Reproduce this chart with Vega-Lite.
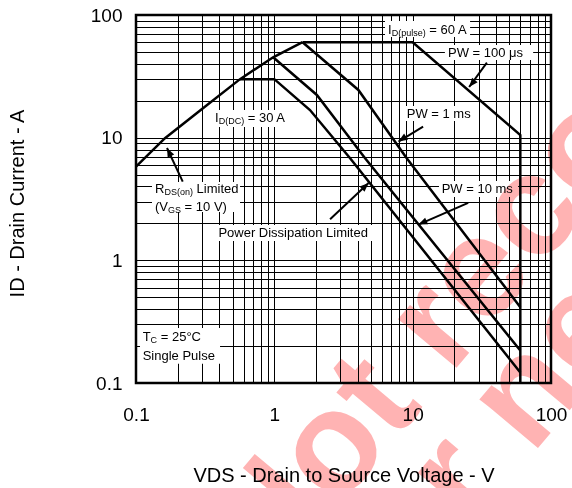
{
  "$schema": "https://vega.github.io/schema/vega-lite/v6.json",
  "width": 415,
  "height": 368,
  "autosize": {"type": "none"},
  "padding": {"left": 136, "top": 15, "right": 21, "bottom": 105},
  "background": "white",
  "config": {
    "font": "Liberation Sans",
    "view": {"stroke": "black", "strokeWidth": 2.5},
    "axis": {
      "domain": false,
      "tickSize": 0,
      "grid": true,
      "gridColor": "black",
      "gridWidth": 1,
      "gridOpacity": 1,
      "labelColor": "black",
      "labelFontSize": 19,
      "labelFlush": false,
      "labelOverlap": false,
      "titleColor": "black",
      "titleFontSize": 20,
      "titleFontWeight": "normal",
      "titleBaseline": "alphabetic",
      "titleAlign": "center"
    }
  },
  "datasets": {
    "curves": [
      {"s": "rds", "i": 1, "V": 0.1, "I": 5.8},
      {"s": "rds", "i": 2, "V": 0.162, "I": 9.9},
      {"s": "rds", "i": 3, "V": 0.3, "I": 17.1},
      {"s": "rds", "i": 4, "V": 0.565, "I": 30},
      {"s": "rds", "i": 5, "V": 0.98, "I": 45.2},
      {"s": "rds", "i": 6, "V": 1.6, "I": 60},
      {"s": "us100", "i": 1, "V": 1.6, "I": 60},
      {"s": "us100", "i": 2, "V": 10, "I": 60},
      {"s": "us100", "i": 3, "V": 60, "I": 10.5},
      {"s": "us100", "i": 4, "V": 60, "I": 0.1},
      {"s": "ms1", "i": 1, "V": 1.6, "I": 60},
      {"s": "ms1", "i": 2, "V": 4.05, "I": 24.5},
      {"s": "ms1", "i": 3, "V": 9.06, "I": 6.8},
      {"s": "ms1", "i": 4, "V": 60, "I": 0.415},
      {"s": "ms10", "i": 1, "V": 0.98, "I": 45.2},
      {"s": "ms10", "i": 2, "V": 2.03, "I": 22.3},
      {"s": "ms10", "i": 3, "V": 4.53, "I": 6.8},
      {"s": "ms10", "i": 4, "V": 60, "I": 0.184},
      {"s": "dc", "i": 1, "V": 0.565, "I": 30},
      {"s": "dc", "i": 2, "V": 1, "I": 30},
      {"s": "dc", "i": 3, "V": 1.81, "I": 16.8},
      {"s": "dc", "i": 4, "V": 3.53, "I": 6.8},
      {"s": "dc", "i": 5, "V": 60, "I": 0.122}
    ],
    "boxes": [
      {"V": 6.31, "V2": 26.0, "I": 89.4, "I2": 66.2},
      {"V": 17.1, "V2": 74.3, "I": 57, "I2": 43},
      {"V": 8.67, "V2": 29.7, "I": 18.1, "I2": 13.7},
      {"V": 15.5, "V2": 57.8, "I": 4.44, "I2": 3.29},
      {"V": 0.373, "V2": 5.35, "I": 1.94, "I2": 1.44},
      {"V": 0.1305, "V2": 0.565, "I": 4.35, "I2": 2.48},
      {"V": 0.3544, "V2": 1.256, "I": 16.8, "I2": 12.2},
      {"V": 0.1069, "V2": 0.405, "I": 0.281, "I2": 0.1432}
    ],
    "texts": [
      {"V": 6.64, "I": 70.6, "t": "I"},
      {"V": 13.2, "I": 70.6, "t": "= 60 A"},
      {"V": 18.0, "I": 45.7, "t": "PW = 100 μs"},
      {"V": 9.06, "I": 14.4, "t": "PW = 1 ms"},
      {"V": 16.2, "I": 3.51, "t": "PW = 10 ms"},
      {"V": 0.394, "I": 1.542, "t": "Power Dissipation Limited"},
      {"V": 0.1372, "I": 3.52, "t": "R"},
      {"V": 0.274, "I": 3.52, "t": "Limited"},
      {"V": 0.1372, "I": 2.53, "t": "(V"},
      {"V": 0.2246, "I": 2.53, "t": "= 10 V)"},
      {"V": 0.373, "I": 13.3, "t": "I"},
      {"V": 0.642, "I": 13.3, "t": "= 30 A"},
      {"V": 0.1118, "I": 0.2183, "t": "T"},
      {"V": 0.1509, "I": 0.2183, "t": "= 25°C"},
      {"V": 0.1118, "I": 0.1542, "t": "Single Pulse"}
    ],
    "subs": [
      {"V": 7.05, "I": 70.6, "t": "D(pulse)"},
      {"V": 0.1605, "I": 3.52, "t": "DS(on)"},
      {"V": 0.1704, "I": 2.53, "t": "GS"},
      {"V": 0.396, "I": 13.3, "t": "D(DC)"},
      {"V": 0.1275, "I": 0.2183, "t": "C"}
    ],
    "arrows": [
      {"V": 34.4, "I": 40.9, "V2": 25.6, "I2": 25.9, "angle": 219.5},
      {"V": 11.9, "I": 12.3, "V2": 7.9, "I2": 9.3, "angle": 237},
      {"V": 25.2, "I": 2.94, "V2": 11.0, "I2": 1.955, "angle": 246},
      {"V": 2.53, "I": 2.16, "V2": 4.8, "I2": 4.27, "angle": 46.6},
      {"V": 0.2177, "I": 4.38, "V2": 0.1675, "I2": 8.24, "angle": 334}
    ],
    "wm": [
      {"V": 0.931, "I": 0.00206, "t": "Not recommended"},
      {"V": 6.05, "I": 0.00091, "t": "for new design"}
    ]
  },
  "encoding": {
    "x": {
      "field": "V",
      "type": "quantitative",
      "scale": {"type": "log", "domain": [0.1, 100], "nice": false},
      "axis": {
        "values": [0.1, 0.2, 0.3, 0.4, 0.5, 0.6, 0.7, 0.8, 0.9, 1, 2, 3, 4, 5, 6, 7, 8, 9, 10, 20, 30, 40, 50, 60, 70, 80, 90, 100],
        "format": "~g",
        "labelExpr": "indexof([0.1, 1, 10, 100], datum.value) >= 0 ? datum.label : ''",
        "labelPadding": 22,
        "title": "VDS - Drain to Source Voltage - V",
        "titleX": 207.5,
        "titleY": 98
      }
    },
    "y": {
      "field": "I",
      "type": "quantitative",
      "scale": {"type": "log", "domain": [0.1, 100], "nice": false},
      "axis": {
        "values": [0.1, 0.2, 0.3, 0.4, 0.5, 0.6, 0.7, 0.8, 0.9, 1, 2, 3, 4, 5, 6, 7, 8, 9, 10, 20, 30, 40, 50, 60, 70, 80, 90, 100],
        "format": "~g",
        "labelExpr": "indexof([0.1, 1, 10, 100], datum.value) >= 0 ? datum.label : ''",
        "labelPadding": 14,
        "title": "ID - Drain Current - A",
        "titleAngle": 270,
        "titleX": -113,
        "titleY": 188
      }
    }
  },
  "layer": [
    {
      "data": {"name": "boxes"},
      "mark": {"type": "rect", "fill": "white", "stroke": null},
      "encoding": {
        "x2": {"field": "V2"},
        "y2": {"field": "I2"}
      }
    },
    {
      "data": {"name": "curves"},
      "mark": {"type": "line", "color": "black", "strokeWidth": 2.5, "strokeJoin": "miter"},
      "encoding": {
        "detail": {"field": "s"},
        "order": {"field": "i", "type": "quantitative"}
      }
    },
    {
      "data": {"name": "arrows"},
      "mark": {"type": "rule", "color": "black", "strokeWidth": 2},
      "encoding": {
        "x2": {"field": "V2"},
        "y2": {"field": "I2"}
      }
    },
    {
      "data": {"name": "arrows"},
      "mark": {"type": "point", "shape": "M0,0L0.4,1L-0.4,1Z", "filled": true, "color": "black", "opacity": 1, "size": 324, "strokeWidth": 0},
      "encoding": {
        "x": {"field": "V2", "type": "quantitative"},
        "y": {"field": "I2", "type": "quantitative"},
        "angle": {"field": "angle", "type": "quantitative", "scale": null}
      }
    },
    {
      "data": {"name": "texts"},
      "mark": {"type": "text", "fontSize": 13, "align": "left", "baseline": "alphabetic", "color": "black"},
      "encoding": {"text": {"field": "t"}}
    },
    {
      "data": {"name": "subs"},
      "mark": {"type": "text", "fontSize": 9, "align": "left", "baseline": "alphabetic", "dy": 2, "color": "black"},
      "encoding": {"text": {"field": "t"}}
    },
    {
      "data": {"name": "wm"},
      "mark": {"type": "text", "fontSize": 144, "fontWeight": "bold", "align": "left", "baseline": "alphabetic", "angle": 310, "color": "#ffb3b3", "blend": "multiply"},
      "encoding": {"text": {"field": "t"}}
    }
  ]
}
